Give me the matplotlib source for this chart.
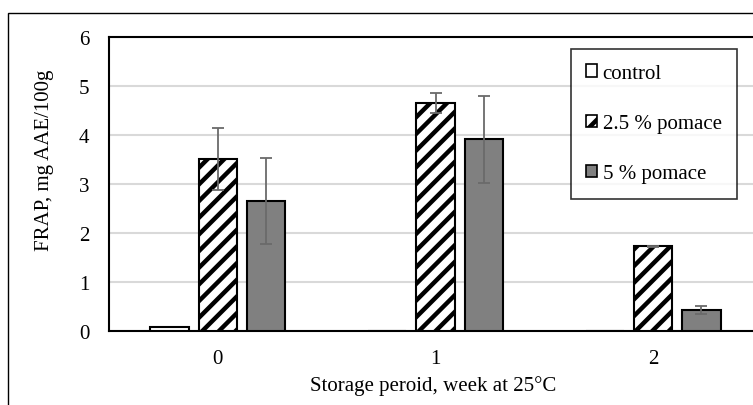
import matplotlib
matplotlib.use("Agg")
import matplotlib.pyplot as plt
from matplotlib.patches import Rectangle, Patch
import numpy as np

weeks = ["0", "1", "2"]
series = ["control", "2.5 % pomace", "5 % pomace"]
control = [0.075, 0.0, 0.0]
pomace25 = [3.51, 4.65, 1.73]
pomace25_err = [0.64, 0.20, 0.01]
pomace5 = [2.66, 3.91, 0.43]
pomace5_err = [0.88, 0.89, 0.085]
yticks = [0, 1, 2, 3, 4, 5, 6]

plt.rcParams['font.family'] = ['Liberation Serif', 'DejaVu Serif']
plt.rcParams['hatch.linewidth'] = 3.2
FS = 15

W, H = 753, 406
fig = plt.figure(figsize=(W/100, H/100), dpi=100)
ax = fig.add_axes([109/W, (H-332)/H, (762-109)/W, (332-38)/H])

x = np.arange(len(weeks))
bw = 0.177
off = 0.222
ax.bar(x - off, control, bw, color='white', edgecolor='black', linewidth=1.5, zorder=3)
ax.bar(x, pomace25, bw, color='white', edgecolor='black', hatch='//', linewidth=1.5, zorder=3)
ax.bar(x + off, pomace5, bw, color='#808080', edgecolor='black', linewidth=1.5, zorder=3)
ax.errorbar(x, pomace25, yerr=pomace25_err, fmt='none', ecolor='#6a6a6a',
            elinewidth=1.3, capsize=4.5, capthick=1.3, zorder=4)
ax.errorbar(x + off, pomace5, yerr=pomace5_err, fmt='none', ecolor='#6a6a6a',
            elinewidth=1.3, capsize=4.5, capthick=1.3, zorder=4)

ax.set_xlim(-0.5, 2.5)
ax.set_ylim(0, 6)
ax.set_yticks(yticks)
ax.set_yticklabels([str(t) for t in yticks], fontsize=FS)
ax.set_xticks(x)
ax.set_xticklabels(weeks, fontsize=FS)
ax.tick_params(axis='both', length=0)
ax.tick_params(axis='y', pad=14)
ax.tick_params(axis='x', pad=13)
ax.yaxis.grid(True, color='#d9d9d9', linewidth=1.5, zorder=0)
ax.set_axisbelow(True)
for s in ['top', 'left', 'bottom']:
    ax.spines[s].set_color('black')
    ax.spines[s].set_linewidth(1.5)
ax.spines['right'].set_visible(False)

fig.text(433/W, (H-386)/H, "Storage peroid, week at 25°C", fontsize=FS,
         ha='center', va='center')
fig.text(45/W, (H-160)/H, "FRAP, mg AAE/100g", fontsize=FS, rotation=90,
         ha='center', va='center')

handles = [Patch(facecolor='white', edgecolor='black', linewidth=1.2),
           Patch(facecolor='white', edgecolor='black', hatch='//', linewidth=1.2),
           Patch(facecolor='#808080', edgecolor='black', linewidth=1.2)]
leg = ax.legend(handles, series, loc='upper left',
                bbox_to_anchor=(571/W, (H-50)/H, (749-571)/W, 0), bbox_transform=fig.transFigure,
                fontsize=FS, frameon=True, fancybox=False, edgecolor='black',
                handlelength=0.55, handleheight=0.55, handletextpad=0.25,
                labelspacing=1.5, borderpad=0.72, borderaxespad=0)
leg.get_frame().set_linewidth(1.2)

fig.patches.append(Rectangle((8/W, -0.1), 1.2, (H-14)/H + 0.1, transform=fig.transFigure,
                             fill=False, edgecolor='black', linewidth=1.0))

fig.savefig("out.png", dpi=100)
